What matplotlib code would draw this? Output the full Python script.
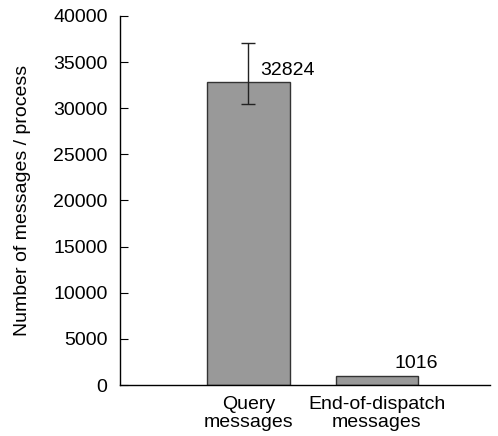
import matplotlib
matplotlib.use("Agg")
import matplotlib.pyplot as plt
import numpy as np

plt.rcParams['font.family'] = ['Liberation Sans', 'DejaVu Sans']

categories = ["Query\nmessages", "End-of-dispatch\nmessages"]
values = [32824, 1016]
err_low = [2400, 0]
err_high = [4200, 0]
yticks = [0, 5000, 10000, 15000, 20000, 25000, 30000, 35000, 40000]

fig = plt.figure(figsize=(4.98, 4.36), dpi=100)
ax = fig.add_axes([120/498, 1 - 385/436, 370/498, 369/436])

x = np.arange(len(categories))
ax.bar(x, values, width=0.64, color="#999999", edgecolor="#333333", linewidth=1.0, zorder=2)
ax.errorbar(x[:1], values[:1], yerr=[err_low[:1], err_high[:1]], fmt="none",
            ecolor="#222222", elinewidth=1.0, capsize=5, capthick=1.0, zorder=3)

for xi, v in zip(x, values):
    ax.text(xi + 0.305, v + 400, str(v), ha="center", va="bottom", fontsize=14)

ax.set_xlim(-1.0, 1.88)
ax.set_ylim(0, 40000)
ax.set_yticks(yticks)
ax.set_yticklabels([str(t) for t in yticks], fontsize=14)
ax.set_xticks(x)
ax.set_xticklabels(categories, fontsize=14, linespacing=1.1)
ax.tick_params(axis="x", length=0, pad=8)
ax.tick_params(axis="y", direction="in", length=6, pad=9, width=0.8)
ax.set_ylabel("Number of messages / process", fontsize=14, labelpad=16)

for s in ("top", "right"):
    ax.spines[s].set_visible(False)
ax.spines["left"].set_linewidth(1.0)
ax.spines["bottom"].set_linewidth(1.0)

fig.savefig("out.png", dpi=100)
